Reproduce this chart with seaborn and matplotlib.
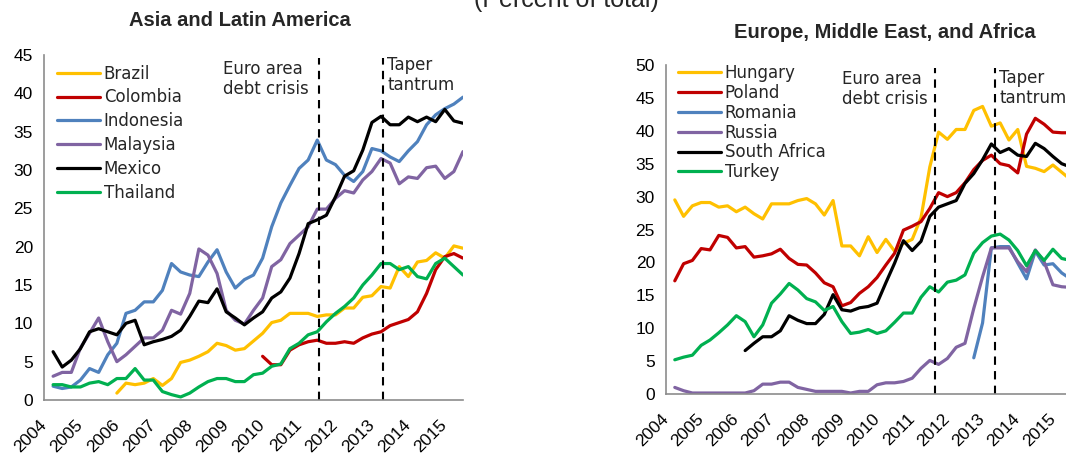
import numpy as np
import matplotlib
matplotlib.use("Agg")
import matplotlib.pyplot as plt
import seaborn as sns

# quarterly observations, 2004Q2 .. 2015Q3 (46 quarters)
quarters = 2004.25 + 0.25 * np.arange(46)
years = list(range(2004, 2016))

# Asia and Latin America (percent of total)
brazil = [0.9, 2.2, 2.0, 2.2, 2.8, 1.9, 2.8, 4.9, 5.2, 5.7, 6.3, 7.4, 7.1, 6.5, 6.7,
          7.7, 8.7, 10.1, 10.4, 11.3, 11.3, 11.3, 10.9, 11.1, 11.1, 12.0, 12.0, 13.4,
          13.6, 14.8, 14.6, 17.4, 16.1, 18.0, 18.2, 19.2, 18.5, 20.1, 19.8]  # from i=7
colombia = [5.7, 4.6, 4.6, 6.5, 7.2, 7.6, 7.8, 7.4, 7.4, 7.6, 7.4, 8.1, 8.6, 8.9,
            9.7, 10.1, 10.5, 11.5, 13.9, 17.0, 18.7, 19.1, 18.5]  # from i=23
indonesia = [1.8, 1.5, 1.7, 2.6, 4.1, 3.6, 5.9, 7.4, 11.3, 11.7, 12.8, 12.8, 14.3,
             17.8, 16.7, 16.3, 16.1, 18.0, 19.6, 16.7, 14.6, 15.7, 16.3, 18.5, 22.6,
             25.7, 28.0, 30.2, 31.3, 33.9, 31.3, 30.7, 29.3, 28.5, 29.8, 32.8, 32.5,
             31.7, 31.1, 32.5, 33.7, 35.9, 37.2, 38.0, 38.6, 39.5]
malaysia = [3.1, 3.6, 3.6, 6.8, 8.7, 10.7, 7.6, 5.0, 5.9, 7.0, 8.1, 8.1, 9.1, 11.7,
            11.2, 13.9, 19.7, 18.9, 16.5, 11.7, 10.4, 9.9, 11.7, 13.3, 17.4, 18.3,
            20.4, 21.5, 22.6, 24.9, 24.9, 26.3, 27.3, 27.0, 28.7, 29.8, 31.5, 30.9,
            28.2, 29.1, 28.9, 30.3, 30.5, 28.9, 29.8, 32.4]
mexico = [6.3, 4.3, 5.2, 6.7, 8.9, 9.3, 8.9, 8.5, 10.0, 10.4, 7.2, 7.6, 7.9, 8.3,
          9.1, 10.9, 12.9, 12.7, 14.5, 11.5, 10.7, 9.8, 10.7, 11.5, 13.3, 14.1, 15.9,
          19.1, 23.0, 23.5, 24.1, 26.5, 29.2, 29.9, 32.6, 36.2, 37.0, 35.9, 35.9,
          36.9, 36.3, 36.9, 36.3, 37.9, 36.4, 36.1]
thailand = [2.0, 2.0, 1.7, 1.7, 2.2, 2.4, 2.0, 2.8, 2.8, 4.1, 2.6, 2.6, 1.1, 0.7,
            0.4, 0.9, 1.7, 2.4, 2.8, 2.8, 2.4, 2.4, 3.3, 3.5, 4.4, 4.7, 6.7, 7.4,
            8.5, 8.9, 10.2, 11.3, 12.2, 13.3, 15.0, 16.3, 17.8, 17.8, 17.0, 17.4,
            16.1, 15.8, 17.8, 18.5, 17.4, 16.3]

# Europe, Middle East, and Africa (percent of total)
hungary = [29.5, 27.0, 28.6, 29.1, 29.1, 28.4, 28.6, 27.7, 28.4, 27.4, 26.6, 28.9,
           28.9, 28.9, 29.4, 29.7, 28.9, 27.2, 29.4, 22.5, 22.5, 21.0, 23.9, 21.5,
           23.5, 21.7, 22.9, 23.5, 26.8, 34.5, 39.8, 38.7, 40.2, 40.2, 43.1, 43.7,
           40.7, 41.2, 38.6, 40.2, 34.6, 34.3, 33.8, 34.8, 33.7, 32.6]
poland = [17.2, 19.8, 20.3, 22.1, 21.9, 24.1, 23.8, 22.2, 22.4, 20.8, 21.0, 21.3,
          22.0, 20.6, 19.7, 19.6, 18.4, 16.9, 16.3, 13.4, 13.9, 15.3, 16.3, 17.7,
          19.6, 21.4, 24.9, 25.5, 26.2, 28.2, 30.6, 30.0, 30.6, 32.1, 34.1, 35.5,
          36.3, 35.0, 34.7, 33.6, 39.5, 41.9, 41.0, 39.8, 39.7, 39.7]
romania = [5.5, 10.8, 22.2, 22.4, 22.4, 19.9, 17.5, 21.7, 19.6, 19.8, 18.4, 17.5]  # from i=34
russia = [1.0, 0.5, 0.15, 0.15, 0.15, 0.15, 0.15, 0.15, 0.15, 0.5, 1.5, 1.5, 1.8,
          1.8, 1.0, 0.7, 0.4, 0.4, 0.4, 0.4, 0.15, 0.4, 0.4, 1.4, 1.7, 1.7, 1.9,
          2.4, 3.9, 5.1, 4.5, 5.4, 7.1, 7.7, 13.0, 17.8, 22.2, 22.2, 22.2, 20.1,
          18.6, 21.9, 20.1, 16.6, 16.3, 16.2]
south_africa = [6.6, 7.7, 8.7, 8.7, 9.6, 11.9, 11.2, 10.7, 10.7, 12.1, 15.1, 12.8,
                12.6, 13.1, 13.3, 13.8, 16.9, 19.9, 23.3, 21.8, 23.2, 27.0, 28.4,
                28.9, 29.4, 32.0, 33.5, 35.6, 38.0, 36.7, 37.3, 36.3, 36.1, 38.1,
                37.3, 36.1, 35.0, 34.5]  # from i=8
turkey = [5.2, 5.6, 5.9, 7.4, 8.2, 9.3, 10.5, 11.9, 11.0, 8.7, 10.5, 13.8, 15.2,
          16.8, 15.8, 14.5, 14.0, 12.7, 13.3, 11.0, 9.2, 9.4, 9.8, 9.2, 9.6, 10.9,
          12.3, 12.3, 14.7, 16.3, 15.5, 17.0, 17.3, 18.1, 21.4, 23.0, 24.0, 24.3,
          23.4, 21.8, 19.5, 21.8, 20.3, 22.0, 20.6, 20.3]

YELLOW, RED, BLUE, PURPLE, BLACK, GREEN = "#FFC000", "#C00000", "#4F81BD", "#8064A2", "black", "#00B050"
GRAY = "#8C8C8C"

left_series = [("Brazil", brazil, YELLOW), ("Colombia", colombia, RED),
               ("Indonesia", indonesia, BLUE), ("Malaysia", malaysia, PURPLE),
               ("Mexico", mexico, BLACK), ("Thailand", thailand, GREEN)]
right_series = [("Hungary", hungary, YELLOW), ("Poland", poland, RED),
                ("Romania", romania, BLUE), ("Russia", russia, PURPLE),
                ("South Africa", south_africa, BLACK), ("Turkey", turkey, GREEN)]

sns.set_style("white")
plt.rcParams["font.family"] = ["Liberation Sans", "DejaVu Sans"]
# the original's legend/notes are letter-spaced; DejaVu matches their width better
wide = {"family": "DejaVu Sans", "size": 12}

fig = plt.figure(figsize=(10.66, 4.53), dpi=100)
ax1 = fig.add_axes([44 / 1066, 1 - 400 / 453, 419 / 1066, 345 / 453])
ax2 = fig.add_axes([666 / 1066, 1 - 394 / 453, 404.5 / 1066, 329 / 453])


def draw(ax, series, ymax, euro, taper, euro_y, taper_y, leg_anchor, leg_space):
    for name, vals, col in series:
        x = quarters[len(quarters) - len(vals):]
        sns.lineplot(x=x, y=vals, color=col, lw=2.3, label=name, ax=ax)
    ax.set_xlim(2004, 2015.5)
    ax.set_ylim(0, ymax)
    ax.set_yticks(range(0, ymax + 1, 5))
    ax.set_xticks(years)
    ax.set_xticklabels([str(y) for y in years], rotation=45, ha="right",
                       va="center", rotation_mode="anchor")
    ax.tick_params(axis="both", direction="in", length=4, color=GRAY,
                   labelsize=12.5, labelcolor="black")
    ax.tick_params(axis="y", pad=8)
    ax.tick_params(axis="x", pad=16)
    for s in ["top", "right"]:
        ax.spines[s].set_visible(False)
    for s in ["left", "bottom"]:
        ax.spines[s].set_color(GRAY)
        ax.spines[s].set_linewidth(1.2)
    ax.set_xlabel("")
    ax.set_ylabel("")
    for xv in (euro, taper):
        ax.axvline(xv, ymin=0, ymax=0.99, color="black", lw=1.5, ls=(0, (4, 3)))
    tr = ax.get_xaxis_transform()
    ax.text(euro - 2.65, euro_y, "Euro area\ndebt crisis", transform=tr,
            ha="left", va="top", fontdict=wide, linespacing=1.12)
    ax.text(taper + 0.12, taper_y, "Taper\ntantrum", transform=tr,
            ha="left", va="top", fontdict=wide, linespacing=1.12)
    ax.legend(loc="upper left", bbox_to_anchor=leg_anchor, frameon=False,
              prop=wide, handlelength=2.6, handletextpad=0.2,
              borderpad=0, borderaxespad=0, labelspacing=leg_space)


draw(ax1, left_series, 45, 2011.55, 2013.3, 0.985, 0.997, (0.031, 0.972), 0.35)
draw(ax2, right_series, 50, 2011.65, 2013.35, 0.985, 0.988, (0.030, 1.003), 0.11)

fig.text(240 / 1066, 1 - 20 / 453, "Asia and Latin America", ha="center",
         va="center", fontsize=14.5, fontweight="bold")
fig.text(885 / 1066, 1 - 33 / 453, "Europe, Middle East, and Africa", ha="center",
         va="center", fontsize=14.5, fontweight="bold")
fig.text(566 / 1066, 1 - 6.5 / 453, "(Percent of total)", ha="center",
         va="baseline", fontsize=18)

fig.savefig("out.png", dpi=100)
